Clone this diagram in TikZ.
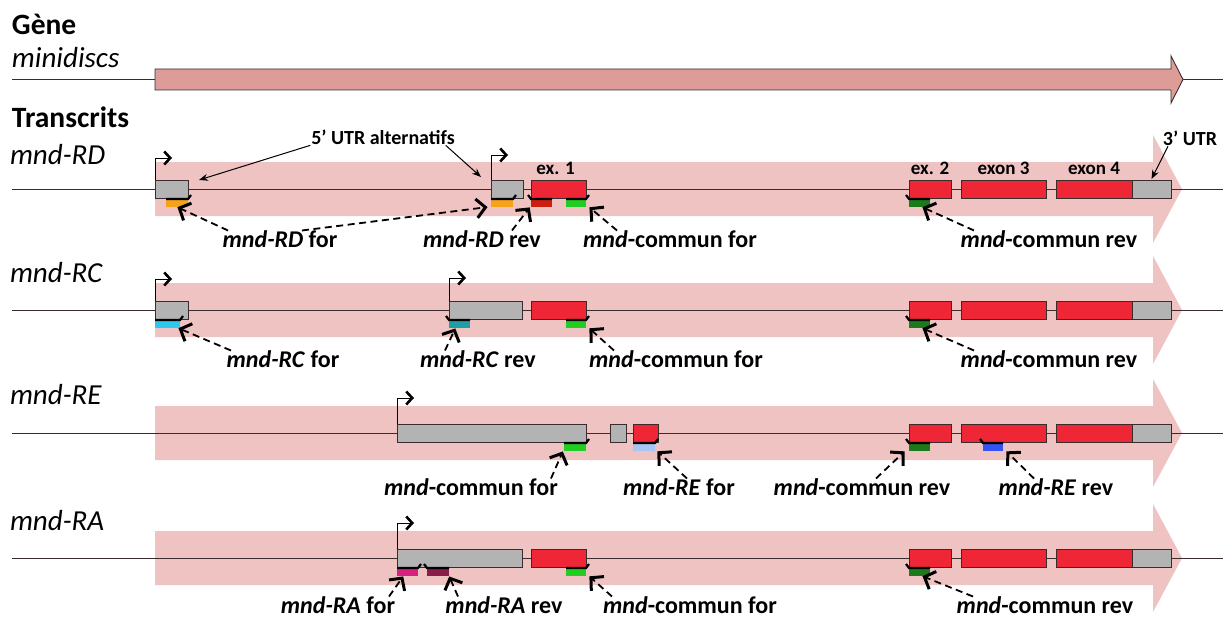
\documentclass[tikz,border=0pt]{standalone}
\usepackage{fontspec}
\setmainfont{Carlito}
\usetikzlibrary{arrows.meta}
\definecolor{genefill}{HTML}{DE9C99}
\definecolor{bandfill}{HTML}{F0C3C3}
\definecolor{exred}{HTML}{EE2636}
\definecolor{exgray}{HTML}{B3B3B3}
\definecolor{edge}{HTML}{3A2C2C}
\definecolor{porange}{HTML}{F7A21B}
\definecolor{pdkred}{HTML}{CC1F10}
\definecolor{pgreen}{HTML}{22CC22}
\definecolor{pdkgreen}{HTML}{1C7A1C}
\definecolor{pcyan}{HTML}{2CC8EE}
\definecolor{pteal}{HTML}{1E9FA6}
\definecolor{plblue}{HTML}{A9C6F2}
\definecolor{pblue}{HTML}{3552F5}
\definecolor{pmag}{HTML}{D6217E}
\definecolor{pdkmag}{HTML}{8A1C49}
\newcommand\exbox[5]{\node[#1, minimum width={#4-#3}] (#2) at (#3,#5) {};}
\newcommand\pfor[5]{\node[prim=#1, minimum width={#4-#3}] (#2) at (#3,#5) {};
  \draw[pbar] ([yshift=-1pt]#2.north west) -- ([yshift=-1pt]#2.north east) -- ++(3,-4);}
\newcommand\prev[5]{\node[prim=#1, minimum width={#4-#3}] (#2) at (#3,#5) {};
  \draw[pbar] ([yshift=-1pt]#2.north east) -- ([yshift=-1pt]#2.north west) -- ++(-3,-4);}
\newcommand\bandrow[1]{\fill[bandfill] (155,{#1-27}) -- (1153,{#1-27}) -- (1153,{#1-54}) -- (1182,#1) -- (1153,{#1+54}) -- (1153,{#1+27}) -- (155,{#1+27}) -- cycle;
  \draw[backbone] (12,#1) -- (1223,#1);}
\begin{document}
\begin{tikzpicture}[x=1pt,y=-1pt,
  every node/.style={inner sep=0pt, outer sep=0pt},
  box/.style={draw=edge, line width=0.9pt, minimum height=18pt, anchor=north west},
  gbox/.style={box, fill=exgray},
  rbox/.style={box, fill=exred},
  prim/.style={fill=#1, minimum height=9pt, anchor=north west},
  pbar/.style={line width=2.2pt, black},
  backbone/.style={draw=edge, line width=0.9pt},
  tss/.style={draw=black, line width=1pt, -{Straight Barb[length=6pt,width=13pt,line width=2.6pt]}},
  darr/.style={draw=black, line width=1.8pt, dash pattern=on 7pt off 4.5pt, -{Straight Barb[length=9pt,width=19pt,line width=3pt]}, shorten >=0.5pt},
  sarr/.style={draw=black, line width=1pt, -{Stealth[length=9pt,width=7pt]}},
  title/.style={font=\fontsize{29.5}{33}\selectfont\bfseries, anchor=west},
  rowlbl/.style={font=\fontsize{29}{33}\selectfont\itshape, anchor=west},
  plbl/.style={font=\fontsize{24}{27}\selectfont\bfseries, text height=16pt, text depth=5pt, inner sep=1pt},
  exlbl/.style={font=\fontsize{19}{22}\selectfont\bfseries, anchor=base},
  utrlbl/.style={font=\fontsize{20}{24}\selectfont\bfseries, inner sep=1pt},
]
\useasboundingbox (0,0) rectangle (1223,623);
\fill[white] (0,0) rectangle (1223,623);

% titles
\node[title] (tgene) at (12,24) {Gène};
\node[rowlbl] (tmini) at (12,58) {minidiscs};
\node[title] (ttrans) at (12,117) {Transcrits};
\node[rowlbl] (trd) at (10,155) {mnd-RD};
\node[rowlbl] (trc) at (10,273) {mnd-RC};
\node[rowlbl] (tre) at (10,395) {mnd-RE};
\node[rowlbl] (tra) at (10,521) {mnd-RA};

% gene
\draw[backbone] (12,79.5) -- (155,79.5);
\draw[backbone] (1183,79.5) -- (1223,79.5);
\draw[draw=edge, fill=genefill, line width=0.9pt] (155,69) -- (1171,69) -- (1171,56) -- (1183,79.5) -- (1171,103) -- (1171,90) -- (155,90) -- cycle;

% bands and backbones
\bandrow{189}
\bandrow{310}
\bandrow{433}
\bandrow{558}

% ---- mnd-RD
\exbox{gbox}{rdu1}{155}{188}{180}
\exbox{gbox}{rdu2}{491}{523}{180}
\exbox{rbox}{rde1}{531}{586}{180}
\exbox{rbox}{rde2}{909}{951}{180}
\exbox{rbox}{rde3}{961}{1046}{180}
\exbox{rbox}{rde4}{1056}{1132}{180}
\exbox{gbox}{rdu3}{1132}{1171}{180}
\pfor{porange}{rdp1}{166}{188}{198}
\pfor{porange}{rdp2}{491}{513}{198}
\prev{pdkred}{rdp3}{531}{552}{198}
\pfor{pgreen}{rdp4}{566}{586}{198}
\prev{pdkgreen}{rdp5}{909}{930}{198}
\draw[tss] (rdu1.north west) -- ++(0,-22) -- ++(17,0);
\draw[tss] (rdu2.north west) -- ++(0,-25) -- ++(17,0);

% ---- mnd-RC
\exbox{gbox}{rcu1}{155}{188}{301}
\exbox{gbox}{rcu2}{449}{522}{301}
\exbox{rbox}{rce1}{531}{586}{301}
\exbox{rbox}{rce2}{909}{951}{301}
\exbox{rbox}{rce3}{961}{1046}{301}
\exbox{rbox}{rce4}{1056}{1132}{301}
\exbox{gbox}{rcu3}{1132}{1171}{301}
\pfor{pcyan}{rcp1}{155}{180}{319}
\prev{pteal}{rcp2}{449}{470}{319}
\pfor{pgreen}{rcp3}{566}{586}{319}
\prev{pdkgreen}{rcp4}{909}{930}{319}
\draw[tss] (rcu1.north west) -- ++(0,-22) -- ++(17,0);
\draw[tss] (rcu2.north west) -- ++(0,-23) -- ++(17,0);

% ---- mnd-RE
\exbox{gbox}{reu1}{397}{586}{424}
\exbox{gbox}{reu2}{610}{626}{424}
\exbox{rbox}{ree1}{633}{658}{424}
\exbox{rbox}{ree2}{909}{951}{424}
\exbox{rbox}{ree3}{961}{1046}{424}
\exbox{rbox}{ree4}{1056}{1132}{424}
\exbox{gbox}{reu3}{1132}{1171}{424}
\pfor{pgreen}{rep1}{564}{586}{442}
\pfor{plblue}{rep2}{633}{655}{442}
\prev{pdkgreen}{rep3}{909}{930}{442}
\prev{pblue}{rep4}{983}{1003}{442}
\draw[tss] (reu1.north west) -- ++(0,-26) -- ++(17,0);

% ---- mnd-RA
\exbox{gbox}{rau1}{397}{522}{549}
\exbox{rbox}{rae1}{531}{586}{549}
\exbox{rbox}{rae2}{909}{951}{549}
\exbox{rbox}{rae3}{961}{1046}{549}
\exbox{rbox}{rae4}{1056}{1132}{549}
\exbox{gbox}{rau3}{1132}{1171}{549}
\pfor{pmag}{rap1}{397}{418}{567}
\prev{pdkmag}{rap2}{427}{449}{567}
\pfor{pgreen}{rap3}{566}{586}{567}
\prev{pdkgreen}{rap4}{909}{930}{567}
\draw[tss] (rau1.north west) -- ++(0,-26) -- ++(17,0);

% exon labels
\node[exlbl] (lex1) at ([xshift=-3pt,yshift=5pt]rde1.north) {ex. 1};
\node[exlbl] (lex2) at ([yshift=5pt]rde2.north) {ex. 2};
\node[exlbl] (lex3) at ([yshift=5pt]rde3.north) {exon 3};
\node[exlbl] (lex4) at ([yshift=5pt]rde4.north) {exon 4};

% UTR annotations
\node[utrlbl] (utr5) at (383,137) {5’ UTR alternatifs};
\draw[sarr] (utr5.south west) -- ([xshift=11pt]rdu1.north east);
\draw[sarr] ([xshift=-10pt]utr5.south east) -- ([xshift=-10pt,yshift=3pt]rdu2.north west);
\node[utrlbl] (utr3) at (1190,138) {3’ UTR};
\draw[sarr] ([xshift=6pt]utr3.south west) -- ([yshift=1pt]rdu3.north);

% primer labels RD
\node[plbl] (rdfor) at (280,242) {\textit{mnd-RD} for};
\node[plbl] (rdrev) at (482,242) {\textit{mnd-RD} rev};
\node[plbl] (rdcf) at (670,242) {\textit{mnd}-commun for};
\node[plbl] (rdcr) at (1049,242) {\textit{mnd}-commun rev};
\draw[darr] ([xshift=-52pt]rdfor.north) -- (rdp1.south);
\draw[darr] ([xshift=22pt]rdfor.north) -- ([xshift=-3pt]rdp2.south west);
\draw[darr] ([xshift=30pt]rdrev.north) -- ([xshift=-1pt]rdp3.south west);
\draw[darr] ([xshift=-53pt]rdcf.north) -- ([xshift=3pt]rdp4.south east);
\draw[darr] ([xshift=-75pt]rdcr.north) -- ([xshift=-8pt]rdp5.south east);

% primer labels RC
\node[plbl] (rcfor) at (283,362) {\textit{mnd-RC} for};
\node[plbl] (rcrev) at (478,362) {\textit{mnd-RC} rev};
\node[plbl] (rccf) at (676,362) {\textit{mnd}-commun for};
\node[plbl] (rccr) at (1049,362) {\textit{mnd}-commun rev};
\draw[darr] ([xshift=-52pt]rcfor.north) -- ([xshift=-2pt]rcp1.south east);
\draw[darr] ([xshift=-33pt]rcrev.north) -- ([xshift=-4pt]rcp2.south);
\draw[darr] ([xshift=-62pt]rccf.north) -- ([xshift=3pt]rcp3.south east);
\draw[darr] ([xshift=-75pt]rccr.north) -- ([xshift=-8pt]rcp4.south east);

% primer labels RE
\node[plbl] (recf) at (471,490) {\textit{mnd}-commun for};
\node[plbl] (refor) at (679,490) {\textit{mnd-RE} for};
\node[plbl] (recr) at (862,490) {\textit{mnd}-commun rev};
\node[plbl] (rerev) at (1056,490) {\textit{mnd-RE} rev};
\draw[darr] ([xshift=80pt]recf.north) -- ([xshift=-1pt]rep1.south west);
\draw[darr] ([xshift=8pt]refor.north) -- ([xshift=2pt]rep2.south east);
\draw[darr] ([xshift=14pt]recr.north) -- ([xshift=-4pt]rep3.south west);
\draw[darr] ([xshift=-22pt]rerev.north) -- ([xshift=3pt]rep4.south east);

% primer labels RA
\node[plbl] (rafor) at (338,608) {\textit{mnd-RA} for};
\node[plbl] (rarev) at (504,608) {\textit{mnd-RA} rev};
\node[plbl] (racf) at (690,608) {\textit{mnd}-commun for};
\node[plbl] (racr) at (1045,608) {\textit{mnd}-commun rev};
\draw[darr] ([xshift=51pt]rafor.north) -- ([xshift=-4pt]rap1.south);
\draw[darr] ([xshift=-46pt]rarev.north) -- (rap2.south east);
\draw[darr] ([xshift=-78pt]racf.north) -- ([xshift=3pt]rap3.south east);
\draw[darr] ([xshift=-72pt]racr.north) -- ([xshift=-8pt]rap4.south east);
\end{tikzpicture}
\end{document}
